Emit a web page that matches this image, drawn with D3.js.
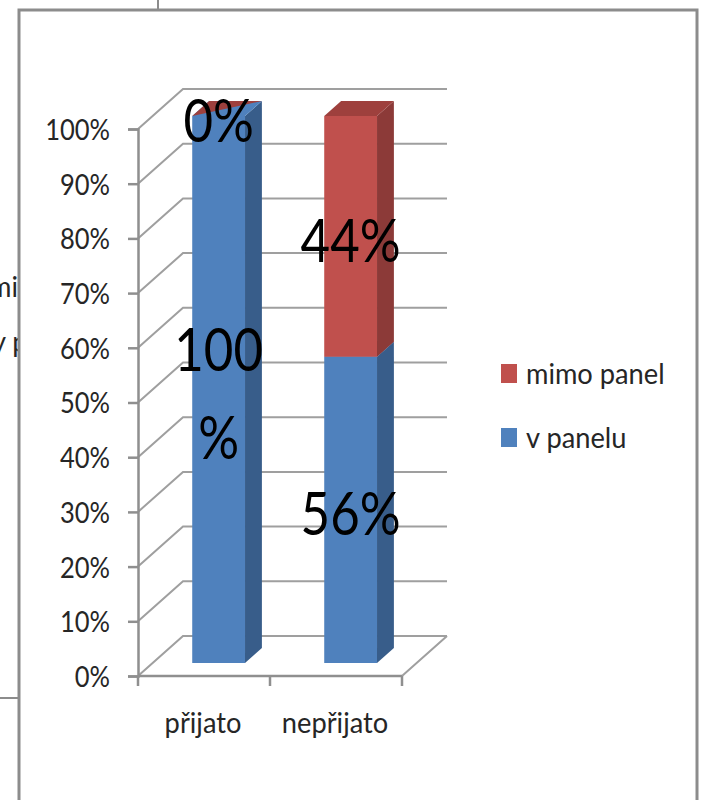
<!DOCTYPE html>
<html>
<head>
<meta charset="utf-8">
<script src="https://cdn.jsdelivr.net/npm/d3@7"></script>
<style>
  html, body { margin: 0; padding: 0; background: #fff; }
  svg { display: block; }
</style>
</head>
<body>
<svg id="chart" width="702" height="800"></svg>
<script>
// Categories and stacked series (shares of 1)
const categories = ["přijato", "nepřijato"];
const seriesNames = ["v panelu", "mimo panel"];
const vPanelu = [1.00, 0.56];
const mimoPanel = [0.00, 0.44];
const yTickValues = [0, 0.1, 0.2, 0.3, 0.4, 0.5, 0.6, 0.7, 0.8, 0.9, 1.0];
const legendOrder = ["mimo panel", "v panelu"];

const colors = {
  "v panelu":   { front: "#4F81BD", side: "#385D8A", top: "#4F81BD" },
  "mimo panel": { front: "#C0504D", side: "#8C3A38", top: "#9E403D" }
};

const svg = d3.select("#chart");
const FONT = "Lato, 'Open Sans', sans-serif";
const SMALL = 29, AXIS_SX = 0.88, TEXT_SX = 0.94;
const BIG = 60, BIG_SX = 0.85;

// Rows for d3.stack
const rows = categories.map((c, i) => ({ cat: c, "v panelu": vPanelu[i], "mimo panel": mimoPanel[i] }));
const stacked = d3.stack().keys(seriesNames)(rows);

// Front-plane scales
const x = d3.scaleBand().domain(categories).range([138, 402]).paddingInner(0.6).paddingOuter(0.3);
const y = d3.scaleLinear().domain([0, 1]).range([676, 129]);

// Oblique depth projection
const DX = 45, DY = 40;
const Z0 = 0.325, Z1 = 0.7;
const proj = (px, v, z) => [px + z * DX, y(v) - z * DY];
const poly = pts => "M" + pts.map(p => p.join(",")).join("L") + "Z";

// Surrounding page fragments and chart frame
svg.append("line").attr("x1", 158).attr("x2", 158).attr("y1", 0).attr("y2", 10)
  .attr("stroke", "#8c8c8c").attr("stroke-width", 2);
svg.append("line").attr("x1", 0).attr("x2", 19).attr("y1", 698).attr("y2", 698)
  .attr("stroke", "#8c8c8c").attr("stroke-width", 2);
const frag = svg.append("g").attr("font-family", FONT).attr("font-size", SMALL).attr("fill", "#262626");
frag.append("text").attr("transform", `translate(-11,297) scale(${TEXT_SX},1)`).text("mi");
frag.append("text").attr("transform", `translate(-8,352) scale(${TEXT_SX},1)`).text("y p");
svg.append("rect").attr("x", 19).attr("y", 10).attr("width", 678).attr("height", 820)
  .attr("fill", "#fff").attr("stroke", "#8c8c8c").attr("stroke-width", 3);

// Back wall / side wall gridlines
const xmin = x.range()[0], xmax = x.range()[1];
const grid = svg.append("g");
grid.selectAll("path").data(yTickValues).join("path")
  .attr("d", v => "M" + [proj(xmin, v, 0), proj(xmin, v, 1), proj(xmax, v, 1)].map(p => p.join(",")).join("L"))
  .attr("fill", "none").attr("stroke", "#9f9f9f").attr("stroke-width", 2);

// Floor edges
svg.append("path")
  .attr("d", "M" + [proj(xmin, 0, 0), proj(xmax, 0, 0), proj(xmax, 0, 1)].map(p => p.join(",")).join("L"))
  .attr("fill", "none").attr("stroke", "#9f9f9f").attr("stroke-width", 2);

// Y axis
const yAxis = svg.append("g").attr("transform", `translate(${xmin},0)`)
  .call(d3.axisLeft(y).tickValues(yTickValues).tickFormat(d3.format(".0%")).tickSize(10).tickPadding(18));
yAxis.select(".domain").attr("stroke", "#8f8f8f").attr("stroke-width", 2.5);
yAxis.selectAll(".tick line").attr("stroke", "#8f8f8f").attr("stroke-width", 2.5);
yAxis.selectAll(".tick text")
  .attr("font-family", FONT).attr("font-size", SMALL).attr("fill", "#262626")
  .attr("dy", "0.36em")
  .attr("transform", function () { const tx = +this.getAttribute("x"); return `translate(${tx * (1 - AXIS_SX)},0) scale(${AXIS_SX},1)`; });

// X axis (ticks at category boundaries, labels at centres)
const xb = svg.append("g");
xb.append("line").attr("x1", xmin).attr("x2", xmax).attr("y1", y(0)).attr("y2", y(0))
  .attr("stroke", "#8f8f8f").attr("stroke-width", 2.5);
const bounds = [xmin].concat(categories.map(c => x(c) + x.bandwidth() + x.step() * x.paddingInner() / 2));
bounds[bounds.length - 1] = xmax;
xb.selectAll(".xt").data(bounds).join("line").attr("class", "xt")
  .attr("x1", d => d).attr("x2", d => d).attr("y1", y(0)).attr("y2", y(0) + 10)
  .attr("stroke", "#8f8f8f").attr("stroke-width", 2.5);
xb.selectAll(".xl").data(categories).join("text").attr("class", "xl")
  .attr("transform", c => `translate(${x(c) + x.bandwidth() / 2 - 1},733) scale(${TEXT_SX},1)`)
  .attr("text-anchor", "middle").attr("font-family", FONT).attr("font-size", SMALL).attr("fill", "#262626")
  .text(c => c);

// 3D stacked columns
const bars = svg.append("g");
categories.forEach((c, i) => {
  const x0 = x(c), x1 = x(c) + x.bandwidth();
  stacked.forEach(s => {
    const [v0, v1] = s[i];
    const col = colors[s.key];
    const g = bars.append("g");
    if (v1 > v0) {
      g.append("path").attr("d", poly([proj(x0, v0, Z0), proj(x1, v0, Z0), proj(x1, v1, Z0), proj(x0, v1, Z0)])).attr("fill", col.front);
      g.append("path").attr("d", poly([proj(x1, v0, Z0), proj(x1, v0, Z1), proj(x1, v1, Z1), proj(x1, v1, Z0)])).attr("fill", col.side);
      g.append("path").attr("d", poly([proj(x0, v1, Z0), proj(x1, v1, Z0), proj(x1, v1, Z1), proj(x0, v1, Z1)])).attr("fill", col.top);
    } else {
      // zero-height segment shows only as a sliver on the top face
      g.append("path").attr("d", poly([proj(x0, v1, Z0), proj(x0, v1, Z1), proj(x1, v1, Z1)])).attr("fill", col.top);
    }
  });
});

// Data labels at the centre of each segment's front face
const fmt = d3.format(".0%");
const labels = svg.append("g").attr("font-family", FONT).attr("font-size", BIG).attr("fill", "#000").attr("text-anchor", "middle");
categories.forEach((c, i) => {
  const cx = x(c) + x.bandwidth() / 2 + Z0 * DX;
  stacked.forEach(s => {
    const [v0, v1] = s[i];
    const cy = (y(v0) + y(v1)) / 2 - Z0 * DY + 4;
    const txt = fmt(v1 - v0);
    const t = labels.append("text").attr("transform", `translate(${cx},${cy}) scale(${BIG_SX},1)`);
    t.text(txt);
    const w = t.node().getComputedTextLength() * BIG_SX;
    if (w > 110) {
      // too wide for the column: wrap the percent sign onto its own line
      t.text(null);
      const lines = [txt.replace("%", ""), "%"];
      const lh = 88;
      lines.forEach((ln, k) => {
        t.append("tspan").attr("x", 0).attr("y", (k - (lines.length - 1) / 2) * lh).attr("dy", "0.36em").text(ln);
      });
    } else {
      t.attr("dy", "0.36em");
    }
  });
});

// Legend
const legend = svg.append("g");
const li = legend.selectAll("g").data(legendOrder).join("g")
  .attr("transform", (d, k) => `translate(501,${364 + k * 64})`);
li.append("rect").attr("width", 16).attr("height", 19).attr("fill", d => colors[d].front);
li.append("text").attr("transform", `translate(25,20) scale(${TEXT_SX},1)`)
  .attr("font-family", FONT).attr("font-size", SMALL).attr("fill", "#262626").text(d => d);
</script>
</body>
</html>
